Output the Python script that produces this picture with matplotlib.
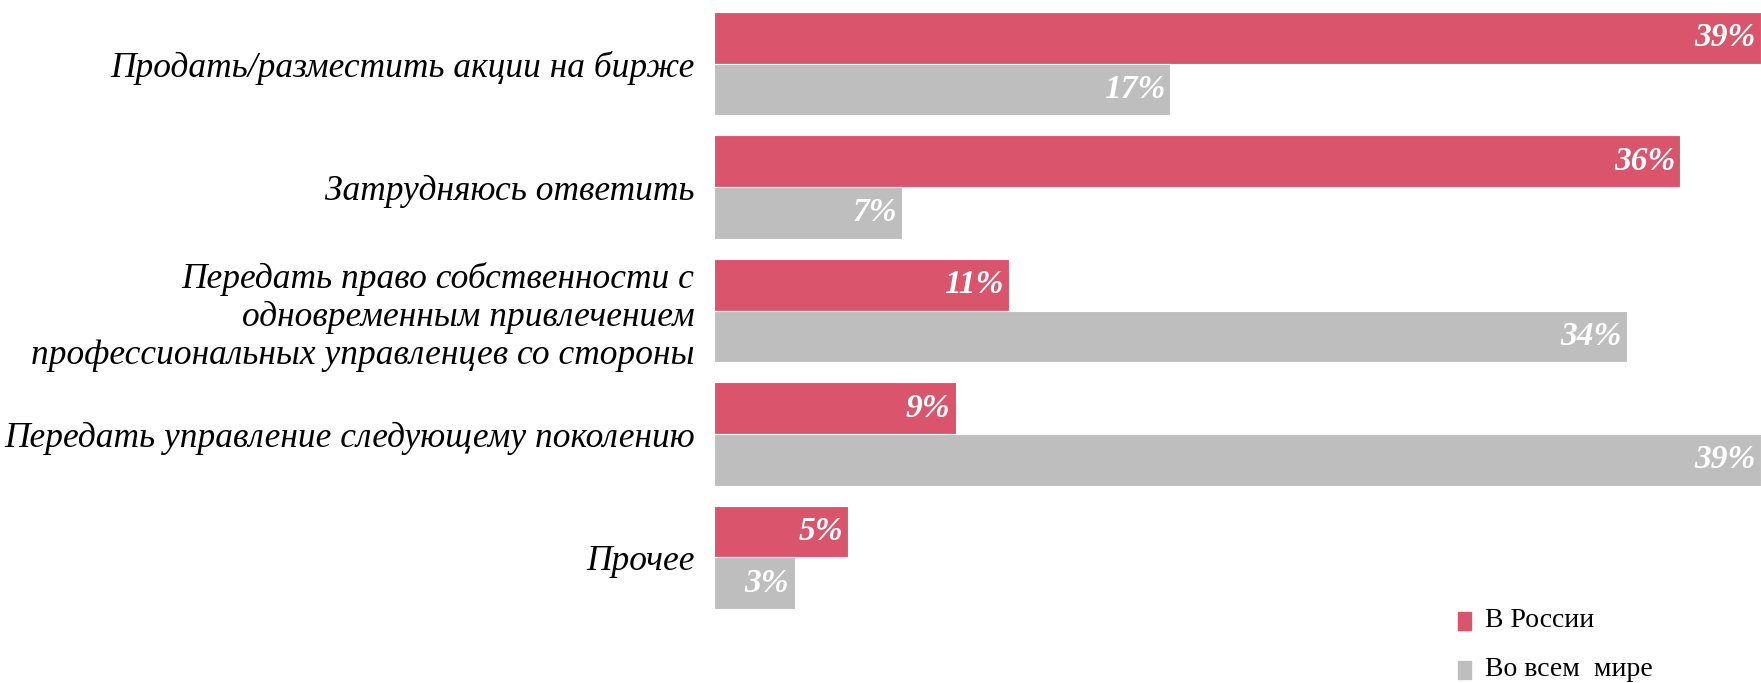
import numpy as np
import matplotlib
matplotlib.use('Agg')
import matplotlib.pyplot as plt
from matplotlib.patches import Rectangle

# Data
categories = ['Продать/разместить акции на бирже',
              'Затрудняюсь ответить',
              'Передать право собственности с\nодновременным привлечением\nпрофессиональных управленцев со стороны',
              'Передать управление следующему поколению',
              'Прочее']
russia = [39, 36, 11, 9, 5]
world = [17, 7, 34, 39, 3]
series_names = ['В России', 'Во всем  мире']

red = '#DA546B'
gray = '#BEBEBE'

fig = plt.figure(figsize=(17.61, 6.83), dpi=100)
ax = fig.add_axes([0.4055, 0.1083, 0.5945, 0.8741])

y = np.arange(len(categories))
h = 0.418

bars_r = ax.barh(y - h / 2, russia, height=h, color=red, edgecolor='white', linewidth=0.8)
bars_w = ax.barh(y + h / 2, world, height=h, color=gray, edgecolor='white', linewidth=0.8)

ax.set_xlim(0, 39)
ax.set_ylim(len(categories) - 1 + h, -h)

# value labels inside bar ends
for bars, vals in [(bars_r, russia), (bars_w, world)]:
    for b, v in zip(bars, vals):
        ax.text(b.get_width() - 0.2, b.get_y() + b.get_height() / 2, f'{v}%',
                ha='right', va='center', color='white', fontsize=24,
                fontweight='bold', fontstyle='italic', family='Liberation Serif')

ax.set_yticks(y)
ax.set_yticklabels(categories, fontsize=25.5, fontstyle='italic',
                   family='Liberation Serif', linespacing=1.2)
ax.tick_params(axis='y', length=0, pad=14)
ax.set_xticks([])
for s in ax.spines.values():
    s.set_visible(False)

# legend, drawn by hand
leg_y = [0.0776, 0.0059]
for yy, c, name in zip(leg_y, [red, gray], series_names):
    fig.patches.append(Rectangle((0.828, yy), 0.0072, 0.0264, color=c,
                                 transform=fig.transFigure, figure=fig))
    fig.text(0.8433, yy + 0.0132, name, ha='left', va='center', fontsize=20,
             family='Liberation Serif')

fig.savefig('out.png', dpi=100)
